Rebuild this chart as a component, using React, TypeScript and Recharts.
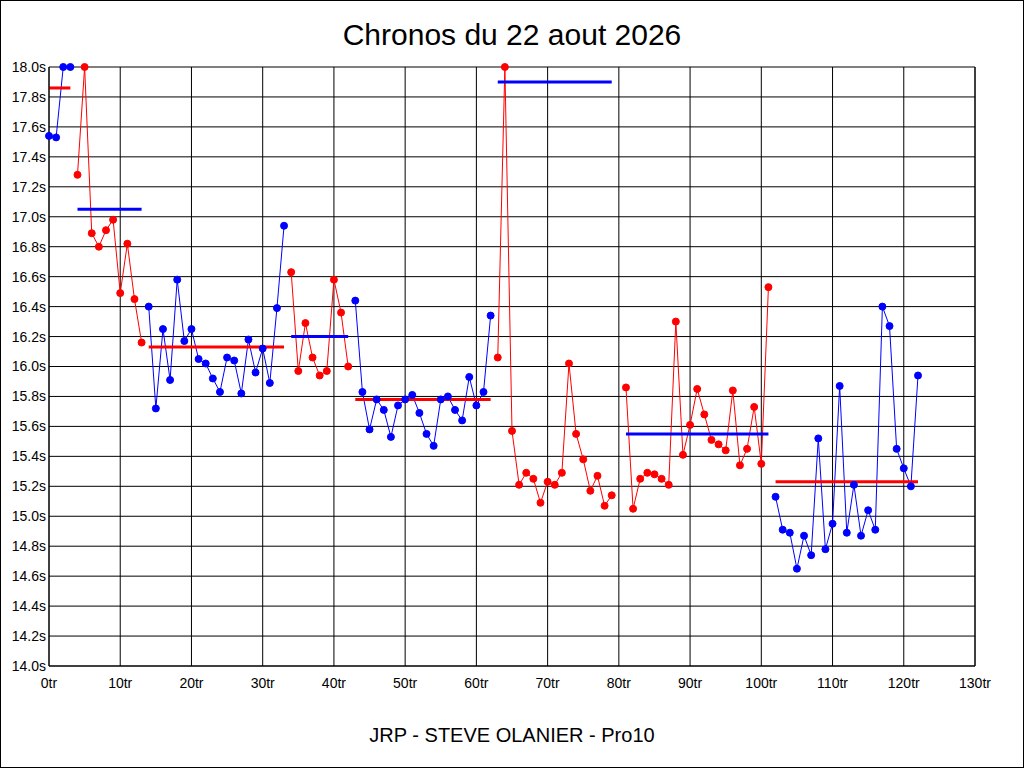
import { ComposedChart, Line, XAxis, YAxis, CartesianGrid } from 'recharts'

// lap times (s) for each run
const run1 = [17.54, 17.53, 18.0, 18.0]
const run2 = [17.28, 18.0, 16.89, 16.8, 16.91, 16.98, 16.49, 16.82, 16.45, 16.16]
const run3 = [
  16.4, 15.72, 16.25, 15.91, 16.58, 16.17, 16.25, 16.05, 16.02, 15.92,
  15.83, 16.06, 16.04, 15.82, 16.18, 15.96, 16.12, 15.89, 16.39, 16.94,
]
const run4 = [16.63, 15.97, 16.29, 16.06, 15.94, 15.97, 16.58, 16.36, 16.0]
const run5 = [
  16.44, 15.83, 15.58, 15.78, 15.71, 15.53, 15.74, 15.78, 15.81, 15.69,
  15.55, 15.47, 15.78, 15.8, 15.71, 15.64, 15.93, 15.74, 15.83, 16.34,
]
const run6 = [
  16.06, 18.0, 15.57, 15.21, 15.29, 15.25, 15.09, 15.23, 15.21, 15.29,
  16.02, 15.55, 15.38, 15.17, 15.27, 15.07, 15.14,
]
const run7 = [
  15.86, 15.05, 15.25, 15.29, 15.28, 15.25, 15.21, 16.3, 15.41, 15.61,
  15.85, 15.68, 15.51, 15.48, 15.44, 15.84, 15.34, 15.45, 15.73, 15.35, 16.53,
]
const run8 = [
  15.13, 14.91, 14.89, 14.65, 14.87, 14.74, 15.52, 14.78, 14.95, 15.87,
  14.89, 15.21, 14.87, 15.04, 14.91, 16.4, 16.27, 15.45, 15.32, 15.2, 15.94,
]

const runs = [run1, run2, run3, run4, run5, run6, run7, run8]
const runStarts = [0, 4, 14, 34, 43, 63, 81, 102]
const runAverages = [17.86, 17.05, 16.13, 16.2, 15.78, 17.9, 15.55, 15.23]
const runIsBlue = [true, false, true, false, true, false, false, true]

const xTicks = [0, 10, 20, 30, 40, 50, 60, 70, 80, 90, 100, 110, 120, 130]
const yTicks = [
  14.0, 14.2, 14.4, 14.6, 14.8, 15.0, 15.2, 15.4, 15.6, 15.8, 16.0,
  16.2, 16.4, 16.6, 16.8, 17.0, 17.2, 17.4, 17.6, 17.8, 18.0,
]

const BLUE = '#0000FF'
const RED = '#FF0000'
const FONT = '"Liberation Sans", Arial, sans-serif'

export default function App() {
  const series = runs.map((vals, i) => ({
    points: vals.map((y, k) => ({ x: runStarts[i] + k, y })),
    avg: [
      { x: runStarts[i], y: runAverages[i] },
      { x: runStarts[i] + vals.length - 1, y: runAverages[i] },
    ],
    color: runIsBlue[i] ? BLUE : RED,
    avgColor: runIsBlue[i] ? RED : BLUE,
  }))

  const tick = { fill: '#000', fontSize: 14, fontFamily: FONT }

  return (
    <div
      style={{
        position: 'absolute',
        left: 0,
        top: 0,
        width: 1024,
        height: 768,
        background: '#fff',
      }}
    >
      <ComposedChart
        width={1024}
        height={768}
        margin={{ top: 67, right: 0, bottom: 72, left: 0 }}
      >
        <CartesianGrid
          yAxisId="left"
          stroke="#000"
          strokeOpacity={1}
          horizontalValues={yTicks}
          verticalValues={xTicks}
        />
        <XAxis
          type="number"
          dataKey="x"
          domain={[0, 130]}
          ticks={xTicks}
          height={30}
          axisLine={{ stroke: '#000' }}
          tickLine={false}
          tickSize={0}
          tickMargin={12}
          tick={tick}
          tickFormatter={(v: number) => `${v}tr`}
          interval={0}
        />
        <YAxis
          yAxisId="left"
          orientation="left"
          type="number"
          domain={[14, 18]}
          ticks={yTicks}
          width={49}
          axisLine={{ stroke: '#000' }}
          tickLine={false}
          tickSize={0}
          tickMargin={3}
          tick={tick}
          tickFormatter={(v: number) => `${v.toFixed(1)}s`}
          interval={0}
        />
        <YAxis
          yAxisId="right"
          orientation="right"
          type="number"
          domain={[14, 18]}
          ticks={yTicks}
          width={49}
          axisLine={{ stroke: '#000' }}
          tickLine={false}
          tickSize={0}
          tickMargin={3}
          tick={tick}
          tickFormatter={(v: number) => `${v.toFixed(1)}s`}
          interval={0}
        />

        {/* lap times */}
        {series.map((s, i) => (
          <Line
            key={`run${i}`}
            yAxisId="left"
            data={s.points}
            dataKey="y"
            type="linear"
            stroke={s.color}
            strokeWidth={1}
            dot={{ r: 3.5, fill: s.color, stroke: s.color, strokeWidth: 1, clipDot: false }}
            activeDot={false}
            isAnimationActive={false}
          />
        ))}

        {/* run averages */}
        {series.map((s, i) => (
          <Line
            key={`avg${i}`}
            yAxisId="left"
            data={s.avg}
            dataKey="y"
            type="linear"
            stroke={s.avgColor}
            strokeWidth={3}
            dot={false}
            activeDot={false}
            isAnimationActive={false}
          />
        ))}
      </ComposedChart>

      {/* title, footer and frame */}
      <svg
        width={1024}
        height={768}
        style={{ position: 'absolute', left: 0, top: 0, pointerEvents: 'none' }}
      >
        <text
          x={512}
          y={45}
          textAnchor="middle"
          fontFamily={FONT}
          fontSize={30}
          fill="#000"
        >
          Chronos du 22 aout 2026
        </text>
        <text
          x={512}
          y={742}
          textAnchor="middle"
          fontFamily={FONT}
          fontSize={20}
          fill="#000"
        >
          JRP - STEVE OLANIER - Pro10
        </text>
        <rect x={0.5} y={0.5} width={1023} height={767} fill="none" stroke="#000" />
      </svg>
    </div>
  )
}
